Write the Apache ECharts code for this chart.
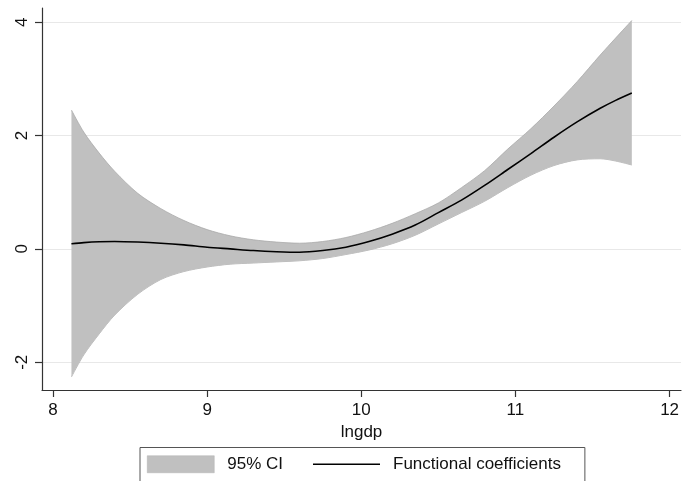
<!DOCTYPE html>
<html>
<head>
<meta charset="utf-8">
<script src="https://cdn.jsdelivr.net/npm/echarts@6/dist/echarts.min.js"></script>
<style>
    html, body { margin: 0; padding: 0; background: #fff; }
    #chart { width: 694px; height: 481px; }
</style>
</head>
<body>
<div id="chart"></div>
<script>
    // values
    const lngdp   = [8.12, 8.2, 8.3, 8.4, 8.55, 8.7, 8.85, 9.0, 9.15, 9.3, 9.45, 9.6, 9.75, 9.9, 10.05, 10.2, 10.35, 10.5, 10.65, 10.8, 10.95, 11.1, 11.25, 11.4, 11.55, 11.65, 11.755]
    const ciUpper = [2.45, 2.06, 1.69, 1.37, 0.98, 0.71, 0.50, 0.34, 0.23, 0.16, 0.12, 0.10, 0.13, 0.20, 0.31, 0.45, 0.62, 0.81, 1.08, 1.38, 1.76, 2.12, 2.52, 2.95, 3.42, 3.72, 4.03]
    const ciLower = [-2.26, -1.87, -1.50, -1.17, -0.80, -0.54, -0.40, -0.32, -0.27, -0.25, -0.23, -0.21, -0.17, -0.10, -0.02, 0.09, 0.24, 0.44, 0.64, 0.84, 1.08, 1.30, 1.47, 1.57, 1.59, 1.55, 1.48]
    const coef    = [0.09, 0.11, 0.125, 0.13, 0.12, 0.10, 0.07, 0.03, 0.00, -0.03, -0.05, -0.06, -0.03, 0.03, 0.13, 0.26, 0.42, 0.64, 0.86, 1.12, 1.40, 1.68, 1.97, 2.24, 2.48, 2.62, 2.75]
    const xTicks = [8, 9, 10, 11, 12]
    const yTicks = [-2, 0, 2, 4]

    const font = "'Liberation Sans', Arial, Helvetica, sans-serif"
    const bandColor = '#c0c0c0'

    let chartInstance = echarts.init(document.getElementById('chart'))

    // y first so the stack runs on y (stacking by index), x mapped through encode
    const lowerData = lngdp.map((x, i) => [ciLower[i], x])
    const widthData = lngdp.map((x, i) => [+(ciUpper[i] - ciLower[i]).toFixed(3), x])
    const coefData  = lngdp.map((x, i) => [x, coef[i]])

    const option = {
        backgroundColor: '#fff',
        animation: false,
        grid: { left: 42, right: 13, top: 8, bottom: 91, containLabel: false },
        xAxis: {
            type: 'value',
            min: 7.929,
            max: 12.074,
            name: 'lngdp',
            nameLocation: 'middle',
            nameGap: 26,
            nameTextStyle: { fontFamily: font, fontSize: 17, color: '#111' },
            axisLine: { show: true, onZero: false, lineStyle: { color: '#333', width: 1.2 } },
            axisTick: { show: true, length: 7, customValues: xTicks, lineStyle: { color: '#333', width: 1.2 } },
            axisLabel: { customValues: xTicks, margin: 12, fontFamily: font, fontSize: 17, color: '#111' },
            splitLine: { show: false }
        },
        yAxis: {
            type: 'value',
            min: -2.49,
            max: 4.25,
            axisLine: { show: true, onZero: false, lineStyle: { color: '#333', width: 1.2 } },
            axisTick: { show: true, length: 7, customValues: yTicks, lineStyle: { color: '#333', width: 1.2 } },
            axisLabel: { customValues: yTicks, rotate: 90, margin: 11, fontFamily: font, fontSize: 17, color: '#111' },
            splitLine: { show: true, customValues: yTicks, lineStyle: { color: '#e8e8e8', width: 1.2 } }
        },
        legend: {
            left: 140,
            bottom: -4,
            padding: [8, 24, 12, 7],
            borderColor: '#555',
            borderWidth: 1,
            itemWidth: 67,
            itemHeight: 17,
            itemGap: 30,
            textStyle: { fontFamily: font, fontSize: 17, color: '#111', padding: [0, 0, 0, 8] },
            data: [
                { name: '95% CI', icon: 'rect', itemStyle: { color: bandColor, borderColor: '#b0b0b0', borderWidth: 0.5 } },
                { name: 'Functional coefficients', icon: 'path://M0,0 L67,0 L67,1.6 L0,1.6 Z', itemStyle: { color: '#000', borderWidth: 0 } }
            ]
        },
        series: [
            {
                name: 'lower',
                type: 'line',
                stack: 'ci',
                stackStrategy: 'all',
                encode: { x: 1, y: 0 },
                smooth: 0.3,
                symbol: 'none',
                lineStyle: { color: '#aaa', width: 0.8 },
                data: lowerData,
                z: 1
            },
            {
                name: '95% CI',
                type: 'line',
                stack: 'ci',
                stackStrategy: 'all',
                encode: { x: 1, y: 0 },
                smooth: 0.3,
                symbol: 'none',
                color: bandColor,
                lineStyle: { color: '#aaa', width: 0.8 },
                areaStyle: { color: bandColor, opacity: 1 },
                data: widthData,
                z: 2
            },
            {
                name: 'Functional coefficients',
                type: 'line',
                smooth: 0.3,
                symbol: 'none',
                color: '#000',
                lineStyle: { color: '#000', width: 1.6 },
                data: coefData,
                z: 3
            }
        ]
    }
    chartInstance.setOption(option)
</script>
</body>
</html>
